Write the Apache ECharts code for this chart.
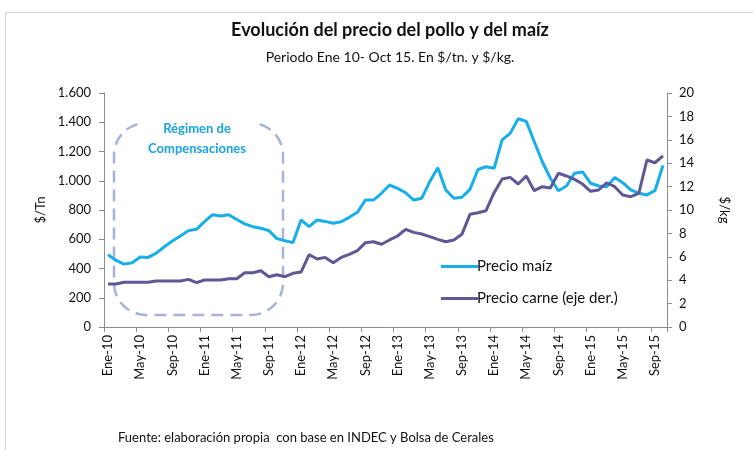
<!DOCTYPE html>
<html>
<head>
<meta charset="utf-8">
<script src="https://cdn.jsdelivr.net/npm/echarts@6/dist/echarts.min.js"></script>
<style>html,body{margin:0;padding:0;background:#fff}#c{width:753px;height:450px}</style>
</head>
<body>
<div id="c"></div>
<script>
const monthNames = ['Ene','Feb','Mar','Abr','May','Jun','Jul','Ago','Sep','Oct','Nov','Dic'];
const years = ['10','11','12','13','14','15'];
const categories = [];
years.forEach(y => monthNames.forEach(m => categories.push(m + '-' + y)));
categories.length = 70; // Ene-10 .. Oct-15

const maiz = [
 495,455,430,440,478,476,505,549,588,622,659,668,
 720,768,759,768,735,705,686,675,659,604,590,577,
 732,686,732,722,709,720,750,784,868,868,914,971,
 948,918,868,880,994,1089,937,880,887,941,1077,1096,
 1085,1279,1324,1424,1406,1267,1130,1017,932,964,1051,1060,
 983,964,959,1023,987,937,914,903,932,1106
];
const carne = [
 3.68,3.68,3.82,3.82,3.82,3.82,3.93,3.93,3.93,3.93,4.07,3.79,
 4.02,4.02,4.02,4.13,4.13,4.64,4.64,4.81,4.30,4.47,4.30,4.59,
 4.70,6.18,5.81,5.95,5.50,5.95,6.21,6.52,7.21,7.29,7.07,7.44,
 7.78,8.35,8.09,7.95,7.72,7.49,7.29,7.44,7.92,9.63,9.77,9.94,
 11.48,12.65,12.79,12.22,12.91,11.65,11.99,11.88,13.14,12.91,12.62,12.22,
 11.60,11.71,12.33,11.99,11.28,11.14,11.43,14.27,14.04,14.62
];
const seriesNames = ['Precio maíz','Precio carne (eje der.)'];

const FONT = 'Lato, "Open Sans", "Liberation Sans", sans-serif';
const axisColor = '#8c8c8c';
const chart = echarts.init(document.getElementById('c'), null, {renderer:'canvas'});
chart.setOption({
  animation:false,
  backgroundColor:'#fff',
  textStyle:{fontFamily:FONT},
  grid:{left:104,right:86,top:93,bottom:123,containLabel:false},
  legend:{
    orient:'vertical', left:436, top:254, itemWidth:37, itemHeight:3, itemGap:17,
    icon:'rect',
    textStyle:{fontFamily:FONT,fontSize:15,color:'#111',padding:[0,0,0,-6]},
    data:seriesNames
  },
  xAxis:{
    type:'category', data:categories, boundaryGap:true,
    axisLine:{lineStyle:{color:axisColor,width:1}},
    axisTick:{show:true,interval:3,length:5,lineStyle:{color:axisColor}},
    axisLabel:{interval:3,rotate:90,fontFamily:FONT,fontSize:13,color:'#111',margin:8}
  },
  yAxis:[{
    type:'value', min:0, max:1600, interval:200,
    name:'$/Tn', nameLocation:'middle', nameGap:44, nameRotate:90,
    nameTextStyle:{fontFamily:FONT,fontSize:13,color:'#111'},
    axisLine:{show:true,lineStyle:{color:axisColor}},
    axisTick:{show:true,length:5,lineStyle:{color:axisColor}},
    splitLine:{show:false},
    axisLabel:{fontFamily:FONT,fontSize:13,color:'#111',margin:13,
      formatter:v => String(v).replace(/\B(?=(\d{3})+(?!\d))/g,'.')}
  },{
    type:'value', min:0, max:20, interval:2, position:'right',
    name:'$/kg', nameLocation:'middle', nameGap:51, nameRotate:-90,
    nameTextStyle:{fontFamily:FONT,fontSize:13,color:'#111'},
    axisLine:{show:true,lineStyle:{color:axisColor}},
    axisTick:{show:true,length:5,lineStyle:{color:axisColor}},
    splitLine:{show:false},
    axisLabel:{fontFamily:FONT,fontSize:13,color:'#111',margin:12}
  }],
  series:[{
    name:seriesNames[0], type:'line', data:maiz, yAxisIndex:0,
    symbol:'none', color:'#18aee8', lineStyle:{width:3,color:'#18aee8'}
  },{
    name:seriesNames[1], type:'line', data:carne, yAxisIndex:1,
    symbol:'none', color:'#5e5894', lineStyle:{width:3,color:'#5e5894'}
  }],
  graphic:[
    {type:'rect', silent:true, z:-1, shape:{x:5.5,y:12.5,width:800,height:500},
     style:{fill:'none',stroke:'#d4d4d4',lineWidth:1}},
    {type:'text', x:390, y:30, style:{text:'Evolución del precio del pollo y del maíz',
      fontFamily:FONT,fontWeight:'bold',fontSize:18,fill:'#111',align:'center',verticalAlign:'middle'}},
    {type:'text', x:390, y:57, style:{text:'Periodo Ene 10- Oct 15. En $/tn. y $/kg.',
      fontFamily:FONT,fontSize:14,fill:'#111',align:'center',verticalAlign:'middle'}},
    {type:'rect', silent:true, shape:{x:114,y:123,width:169,height:192,r:32},
     style:{fill:'none',stroke:'#aab2dc',lineWidth:2.5,lineDash:[12,7]}},
    {type:'rect', silent:true, shape:{x:142,y:116,width:112,height:15},
     style:{fill:'#fff',stroke:'none'}},
    {type:'text', x:197, y:129, style:{text:'Régimen de',
      fontFamily:FONT,fontWeight:'bold',fontSize:13,fill:'#1aa3e0',align:'center',verticalAlign:'middle'}},
    {type:'text', x:197, y:149, style:{text:'Compensaciones',
      fontFamily:FONT,fontWeight:'bold',fontSize:13,fill:'#1aa3e0',align:'center',verticalAlign:'middle'}},
    {type:'text', x:118, y:438, style:{text:'Fuente: elaboración propia  con base en INDEC y Bolsa de Cerales',
      fontFamily:FONT,fontSize:13,fill:'#111',align:'left',verticalAlign:'middle'}}
  ]
});
</script>
</body>
</html>
